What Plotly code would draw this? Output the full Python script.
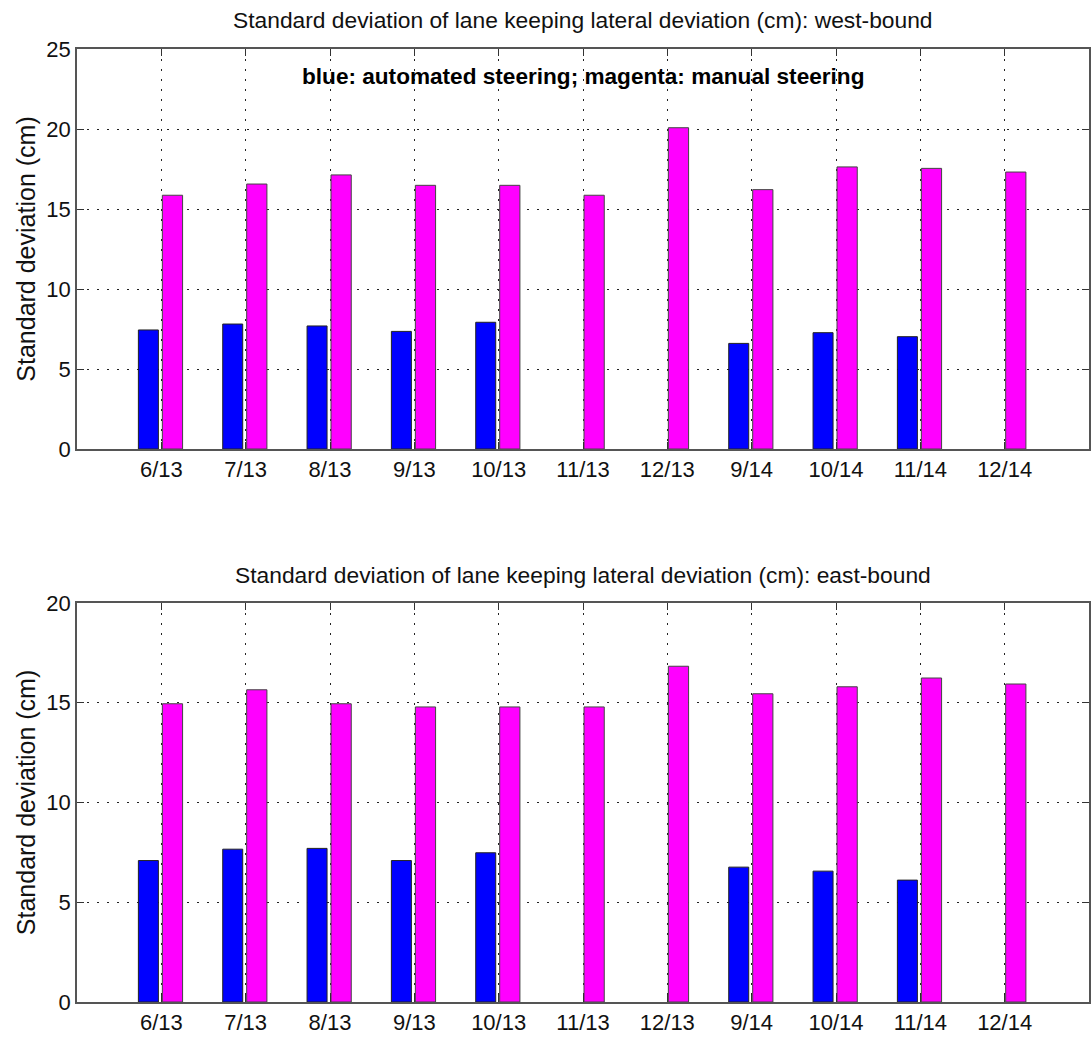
import plotly.graph_objects as go
from plotly.subplots import make_subplots

months = ["6/13", "7/13", "8/13", "9/13", "10/13", "11/13", "12/13", "9/14", "10/14", "11/14", "12/14"]
west_automated = [7.44, 7.81, 7.69, 7.35, 7.92, None, None, 6.60, 7.27, 7.02, None]
west_manual = [15.86, 16.56, 17.13, 16.48, 16.48, 15.86, 20.08, 16.21, 17.63, 17.54, 17.31]
east_automated = [7.09, 7.66, 7.70, 7.09, 7.48, None, None, 6.76, 6.56, 6.11, None]
east_manual = [14.95, 15.65, 14.95, 14.79, 14.79, 14.79, 16.83, 15.45, 15.80, 16.24, 15.94]

xpos = list(range(len(months)))
FONT = "Liberation Sans, Arial, sans-serif"
FS = 22

fig = make_subplots(rows=2, cols=1, vertical_spacing=0.16)

panels = [(1, west_automated, west_manual), (2, east_automated, east_manual)]
for row, auto, man in panels:
    fig.add_trace(go.Bar(x=xpos, y=auto, offset=-0.272, width=0.237,
                         marker=dict(color="#0000ff", line=dict(color="#222222", width=1)),
                         showlegend=False), row=row, col=1)
    fig.add_trace(go.Bar(x=xpos, y=man, offset=0.012, width=0.24,
                         marker=dict(color="#ff00ff", line=dict(color="#444444", width=1)),
                         showlegend=False), row=row, col=1)

H = 1038
W = 1092
ml, mr, mt, mb = 77, 1, 49, 36
ph = H - mt - mb
top_dom = [(1002 - 449) / ph, 1.0]
bot_dom = [0.0, (1002 - 603) / ph]

axis_common = dict(
    showline=True, linecolor="#555555", linewidth=1.5, mirror="ticks",
    ticks="inside", ticklen=7, tickcolor="#333333",
    showgrid=True, gridcolor="#222222", griddash="2px,8px", gridwidth=1,
    zeroline=False,
    tickfont=dict(family=FONT, size=FS, color="#111111"),
)

fig.update_xaxes(range=[-1, 11], tickvals=xpos, ticktext=months, **axis_common)
fig.update_yaxes(**axis_common)
ytitle = dict(text="Standard deviation (cm)", font=dict(family=FONT, size=25, color="#111111"), standoff=4)
fig.update_yaxes(range=[0, 25], tickvals=[0, 5, 10, 15, 20, 25], domain=top_dom, row=1, col=1, title=ytitle)
fig.update_yaxes(range=[0, 20], tickvals=[0, 5, 10, 15, 20], domain=bot_dom, row=2, col=1, title=ytitle)

titles = [
    ("Standard deviation of lane keeping lateral deviation (cm): west-bound", 20),
    ("Standard deviation of lane keeping lateral deviation (cm): east-bound", 575),
]
annos = []
for text, ypix in titles:
    annos.append(dict(text=text, xref="paper", yref="paper", x=0.5,
                      y=(H - mb - ypix) / ph, xanchor="center", yanchor="middle",
                      showarrow=False, font=dict(family=FONT, size=22.8, color="#111111")))
annos.append(dict(text="<b>blue: automated steering; magenta: manual steering</b>",
                  xref="x", yref="y", x=5, y=23.3, xanchor="center", yanchor="middle",
                  showarrow=False, font=dict(family=FONT, size=22.6, color="#000000")))

fig.update_layout(
    width=W, height=H, barmode="overlay",
    margin=dict(l=ml, r=mr, t=mt, b=mb),
    plot_bgcolor="white", paper_bgcolor="white",
    annotations=annos,
    font=dict(family=FONT),
)

fig.write_html("out.html", config={"displayModeBar": False},
               post_script="document.body.style.margin='0';document.body.style.padding='0';")
